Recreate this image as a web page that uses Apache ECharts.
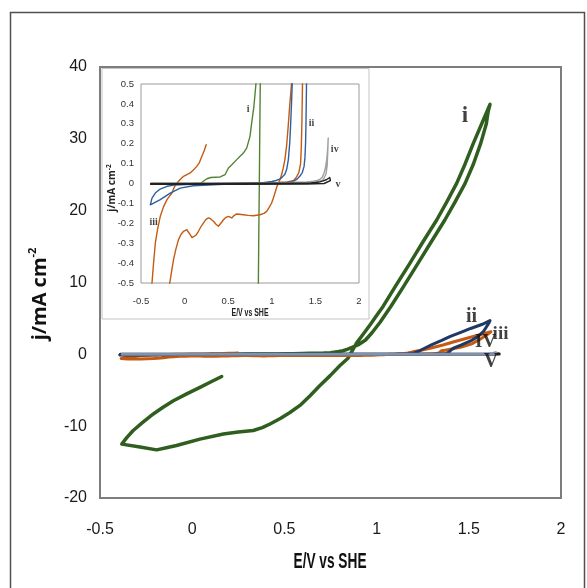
<!DOCTYPE html>
<html>
<head>
<meta charset="utf-8">
<script src="https://cdn.jsdelivr.net/npm/echarts@6/dist/echarts.min.js"></script>
<style>
  html, body { margin: 0; padding: 0; background: #ffffff; }
  #chart { width: 587px; height: 588px; }
</style>
</head>
<body>
<div id="chart"></div>
<script>
// Axis ticks
const potentialTicks = [-0.5, 0, 0.5, 1, 1.5, 2];
const currentTicks = [-20, -10, 0, 10, 20, 30, 40];
const insetCurrentTicks = [-0.5, -0.4, -0.3, -0.2, -0.1, 0, 0.1, 0.2, 0.3, 0.4, 0.5];

// Cyclic voltammograms, [E / V vs SHE, j / mA cm^-2], in scan order
const curveI = [
  [0.16,-3.08],[0.10,-3.85],[0.042,-4.6],[-0.03,-5.5],[-0.102,-6.46],[-0.16,-7.4],[-0.211,-8.3],
  [-0.27,-9.5],[-0.32,-10.6],[-0.355,-11.6],[-0.382,-12.5],[-0.283,-12.9],[-0.193,-13.3],[-0.14,-13.0],
  [-0.085,-12.7],[0.042,-11.8],[0.169,-11.1],[0.25,-10.8],[0.331,-10.6],[0.38,-10.2],[0.422,-9.7],
  [0.48,-8.9],[0.53,-8.1],[0.59,-7.0],[0.638,-5.8],[0.69,-4.4],[0.747,-3.0],[0.80,-1.6],[0.845,-0.55],
  [0.852,-0.2],[0.857,0],[0.862,0.25],[0.87,0.6],[0.892,1.6],[0.93,2.9],[0.97,4.3],[1.0,5.4],[1.036,6.7],
  [1.10,9.4],[1.181,12.7],[1.25,15.6],[1.326,18.7],[1.38,21.2],[1.434,23.8],[1.48,26.5],[1.525,29.4],
  [1.57,32.1],[1.615,34.8],
  [1.605,33.8],[1.595,32.1],[1.565,29.4],[1.525,26.5],[1.48,23.8],[1.425,21.2],[1.37,18.7],
  [1.295,15.6],[1.225,12.7],[1.145,9.4],[1.078,6.7],[1.02,4.5],[0.975,3.0],[0.94,2.0],[0.905,1.4],
  [0.87,1.0],[0.84,0.7],[0.818,0.5],[0.795,0.388],[0.769,0.304],[0.75,0.237],[0.712,0.178],[0.674,0.153],
  [0.636,0.137],[0.598,0.12],[0.541,0.094],[0.503,0.078],[0.465,0.045],[0.407,0.033],[0.30,0.03],
  [0.255,0.024],[0.18,0.0],[0.10,0.0]
];
const curveII = [
  [0.10,-0.011],[-0.05,-0.023],[-0.165,-0.048],[-0.279,-0.081],[-0.36,-0.1],[-0.393,-0.107],
  [-0.375,-0.075],[-0.336,-0.048],[-0.28,-0.028],[-0.202,-0.014],[-0.12,-0.008],[-0.05,-0.006],
  [0.2,-0.002],[0.6,0.0],[0.9,0.004],[1.0,0.01],[1.05,0.015],[1.09,0.022],[1.12,0.032],[1.15,0.046],
  [1.17,0.07],[1.19,0.12],[1.205,0.2],[1.215,0.287],[1.226,0.4],[1.234,0.5],[1.26,0.85],[1.30,1.35],
  [1.35,1.9],[1.40,2.5],[1.46,3.1],[1.51,3.6],[1.57,4.15],[1.615,4.7],
  [1.61,4.4],[1.58,3.2],[1.55,2.5],[1.51,1.86],[1.46,1.3],[1.42,0.9],[1.405,0.65],[1.398,0.5],
  [1.392,0.3],[1.387,0.2],[1.38,0.13],[1.37,0.086],[1.35,0.055],[1.32,0.036],[1.29,0.022],
  [1.245,0.01],[1.15,0.004],[0.9,0.0],[0.5,-0.003],[0.10,-0.011]
];
const curveIII = [
  [0.247,0.195],[0.225,0.165],[0.198,0.137],[0.17,0.105],[0.14,0.086],[0.10,0.068],[0.064,0.053],
  [0.025,0.045],[-0.012,0.036],[-0.05,0.02],[-0.088,0.0025],[-0.12,-0.02],[-0.145,-0.048],
  [-0.175,-0.065],[-0.202,-0.081],[-0.24,-0.115],[-0.279,-0.165],[-0.31,-0.23],[-0.336,-0.3],
  [-0.356,-0.4],[-0.374,-0.5],[-0.385,-0.58],[-0.35,-0.64],[-0.28,-0.66],[-0.21,-0.58],[-0.17,-0.5],
  [-0.145,-0.43],[-0.127,-0.383],[-0.10,-0.33],[-0.07,-0.282],[-0.04,-0.255],[-0.012,-0.24],
  [0.026,-0.232],[0.045,-0.245],[0.064,-0.257],[0.085,-0.272],[0.102,-0.274],[0.13,-0.26],
  [0.159,-0.24],[0.19,-0.215],[0.217,-0.198],[0.245,-0.18],[0.274,-0.173],[0.30,-0.178],
  [0.331,-0.19],[0.36,-0.205],[0.388,-0.215],[0.415,-0.2],[0.446,-0.182],[0.475,-0.17],
  [0.503,-0.165],[0.52,-0.17],[0.541,-0.173],[0.57,-0.16],[0.598,-0.153],[0.674,-0.157],
  [0.73,-0.16],[0.788,-0.162],[0.865,-0.157],[0.91,-0.15],[0.941,-0.14],[0.97,-0.12],[0.998,-0.098],
  [1.02,-0.07],[1.036,-0.048],[1.055,-0.02],[1.074,0.0025],[1.095,0.02],[1.112,0.044],[1.13,0.075],
  [1.15,0.12],[1.17,0.19],[1.188,0.287],[1.205,0.39],[1.226,0.5],[1.26,0.68],[1.29,0.85],[1.36,1.3],
  [1.42,1.75],[1.47,2.1],[1.54,2.6],[1.62,3.15],
  [1.60,2.75],[1.57,2.25],[1.52,1.5],[1.46,1.0],[1.40,0.7],[1.37,0.56],[1.352,0.5],[1.345,0.3],
  [1.338,0.18],[1.33,0.1],[1.31,0.055],[1.28,0.03],[1.25,0.015],[1.18,0.008],[1.10,0.006]
];
const curveIV = [
  [-0.38,0.002],[0.2,0.002],[0.8,0.003],[1.2,0.005],[1.4,0.008],[1.475,0.011],[1.52,0.015],
  [1.55,0.02],[1.58,0.032],[1.6,0.053],[1.615,0.08],[1.63,0.12],[1.64,0.17],[1.647,0.229],
  [1.642,0.16],[1.635,0.09],[1.62,0.045],[1.59,0.02],[1.55,0.01],[1.45,0.004],[1.2,0.0],
  [0.6,-0.002],[-0.38,-0.004]
];
const curveV = [
  [-0.39,0.0],[0.3,0.0],[0.9,0.001],[1.3,0.002],[1.45,0.003],[1.51,0.005],[1.55,0.008],[1.59,0.013],
  [1.63,0.02],[1.665,0.03],[1.672,0.015],[1.66,0.005],[1.6,0.0],[1.4,-0.003],[0.6,-0.004],[-0.39,-0.004]
];

// Curve tags, [E, j, text]
const mainTags = [[1.479, 33.2, 'i'], [1.515, 5.2, 'ii'], [1.672, 2.8, 'iii'], [1.591, 1.65, 'IV'], [1.62, -1.0, 'V']];
const insetTags = [[0.73, 0.371, 'i'], [1.456, 0.304, 'ii'], [-0.356, -0.198, 'iii'], [1.722, 0.17, 'iv'], [1.76, -0.006, 'v']];

const SANS = "'Liberation Sans', Arial, sans-serif";
const SERIF = "'Liberation Serif', 'DejaVu Serif', serif";
const mainTagSize = { 'i': 23, 'ii': 20, 'iii': 19, 'IV': 19, 'V': 20 };

// horizontal squeeze so a title fills a given width
function squeezeFor(text, font, width) {
  const ctx = document.createElement('canvas').getContext('2d');
  ctx.font = font;
  return width / ctx.measureText(text).width;
}

const xTitleFont = "bold 22px " + SANS;
const insetXTitleFont = "bold 11px " + SANS;

const chart = echarts.init(document.getElementById('chart'), null, { renderer: 'canvas' });

function lineSeries(data, color, width, axisIdx, z) {
  return {
    type: 'line', data: data, xAxisIndex: axisIdx, yAxisIndex: axisIdx,
    showSymbol: false, symbol: 'none', smooth: false, z: z, silent: true,
    lineStyle: { color: color, width: width, join: 'round', cap: 'round' }
  };
}

function tagSeries(tags, axisIdx, z, sizeFor) {
  return {
    type: 'scatter', xAxisIndex: axisIdx, yAxisIndex: axisIdx, z: z, silent: true,
    symbolSize: 1, itemStyle: { color: 'rgba(0,0,0,0)' },
    data: tags.map(t => ({
      value: [t[0], t[1]], name: t[2],
      label: { fontSize: sizeFor(t[2]) }
    })),
    label: {
      show: true, position: 'inside', formatter: p => p.name,
      fontFamily: SERIF, fontWeight: 'bold', color: '#111'
    }
  };
}

const option = {
  animation: false,
  backgroundColor: '#ffffff',
  grid: [
    { left: 100, top: 67, width: 461, height: 431, show: true, borderColor: '#7d7d7d', borderWidth: 2, z: 0 },
    { left: 141, top: 84, width: 218, height: 199, show: true, borderColor: '#9a9a9a', borderWidth: 1, z: 10 }
  ],
  xAxis: [
    {
      gridIndex: 0, type: 'value',
      min: potentialTicks[0], max: potentialTicks[potentialTicks.length - 1], interval: 0.5,
      axisLine: { show: false }, axisTick: { show: false }, splitLine: { show: false },
      axisLabel: { fontFamily: SANS, fontSize: 16, color: '#1a1a1a', margin: 24 }
    },
    {
      gridIndex: 1, type: 'value', z: 10,
      min: potentialTicks[0], max: potentialTicks[potentialTicks.length - 1], interval: 0.5,
      axisLine: { show: false }, axisTick: { show: false }, splitLine: { show: false },
      axisLabel: { fontFamily: SANS, fontSize: 9.5, color: '#333', margin: 13 }
    }
  ],
  yAxis: [
    {
      gridIndex: 0, type: 'value',
      min: currentTicks[0], max: currentTicks[currentTicks.length - 1], interval: 10,
      axisLine: { show: false }, axisTick: { show: false }, splitLine: { show: false },
      axisLabel: { fontFamily: SANS, fontSize: 16, color: '#1a1a1a', margin: 13 }
    },
    {
      gridIndex: 1, type: 'value', z: 10,
      min: insetCurrentTicks[0], max: insetCurrentTicks[insetCurrentTicks.length - 1], interval: 0.1,
      axisLine: { show: false }, axisTick: { show: false }, splitLine: { show: false },
      axisLabel: {
        fontFamily: SANS, fontSize: 9.5, color: '#333', margin: 7,
        formatter: v => String(Math.round(v * 10) / 10)
      }
    }
  ],
  graphic: [
    // outer frame
    { type: 'rect', z: 0, silent: true,
      shape: { x: 10.5, y: 12.5, width: 574, height: 600 },
      style: { fill: 'none', stroke: '#505050', lineWidth: 1.5 } },
    // inset panel
    { type: 'rect', z: 5, silent: true,
      shape: { x: 102, y: 68.5, width: 267, height: 250.5 },
      style: { fill: '#ffffff', stroke: '#c4c4c4', lineWidth: 1 } },
    // axis titles
    { type: 'text', z: 20, silent: true, x: 330, y: 562,
      scaleX: squeezeFor('E/V vs SHE', xTitleFont, 73),
      style: { text: 'E/V vs SHE', font: xTitleFont, fill: '#111', align: 'center', verticalAlign: 'middle' } },
    { type: 'text', z: 20, silent: true, x: 40, y: 294, rotation: Math.PI / 2,
      style: {
        text: '{b|j/mA cm}{s|-2}', align: 'center', verticalAlign: 'middle',
        rich: {
          b: { fontFamily: "'Open Sans', sans-serif", fontWeight: 'bold', fontSize: 20, fill: '#111', color: '#111', lineHeight: 25 },
          s: { fontFamily: "'Open Sans', sans-serif", fontWeight: 'bold', fontSize: 11, fill: '#111', color: '#111', verticalAlign: 'top', lineHeight: 25 }
        }
      } },
    { type: 'text', z: 20, silent: true, x: 250, y: 313,
      scaleX: squeezeFor('E/V vs SHE', insetXTitleFont, 37),
      style: { text: 'E/V vs SHE', font: insetXTitleFont, fill: '#222', align: 'center', verticalAlign: 'middle' } },
    { type: 'text', z: 20, silent: true, x: 112, y: 188, rotation: Math.PI / 2,
      style: {
        text: '{b|j/mA cm}{s|-2}', align: 'center', verticalAlign: 'middle',
        rich: {
          b: { fontFamily: "'Open Sans', sans-serif", fontWeight: 'bold', fontSize: 10, fill: '#222', color: '#222', lineHeight: 13 },
          s: { fontFamily: "'Open Sans', sans-serif", fontWeight: 'bold', fontSize: 6.5, fill: '#222', color: '#222', verticalAlign: 'top', lineHeight: 13 }
        }
      } }
  ],
  series: [
    // main panel
    lineSeries(curveI, '#2f5e1f', 3.5, 0, 2),
    lineSeries(curveV, '#222222', 3, 0, 2),
    lineSeries(curveIII, '#c55a11', 3, 0, 2),
    lineSeries(curveII, '#1f3864', 3, 0, 2),
    lineSeries(curveIV, '#8193ac', 3, 0, 2),
    tagSeries(mainTags, 0, 3, t => mainTagSize[t]),
    // inset panel
    lineSeries(curveI, '#548235', 1.4, 1, 12),
    lineSeries(curveIII, '#c55a11', 1.4, 1, 12),
    lineSeries(curveII, '#2e5f9e', 1.4, 1, 12),
    lineSeries(curveIV, '#a0a0a0', 1.4, 1, 12),
    lineSeries(curveV, '#222222', 1.4, 1, 12),
    tagSeries(insetTags, 1, 13, () => 10)
  ]
};

chart.setOption(option);
</script>
</body>
</html>
